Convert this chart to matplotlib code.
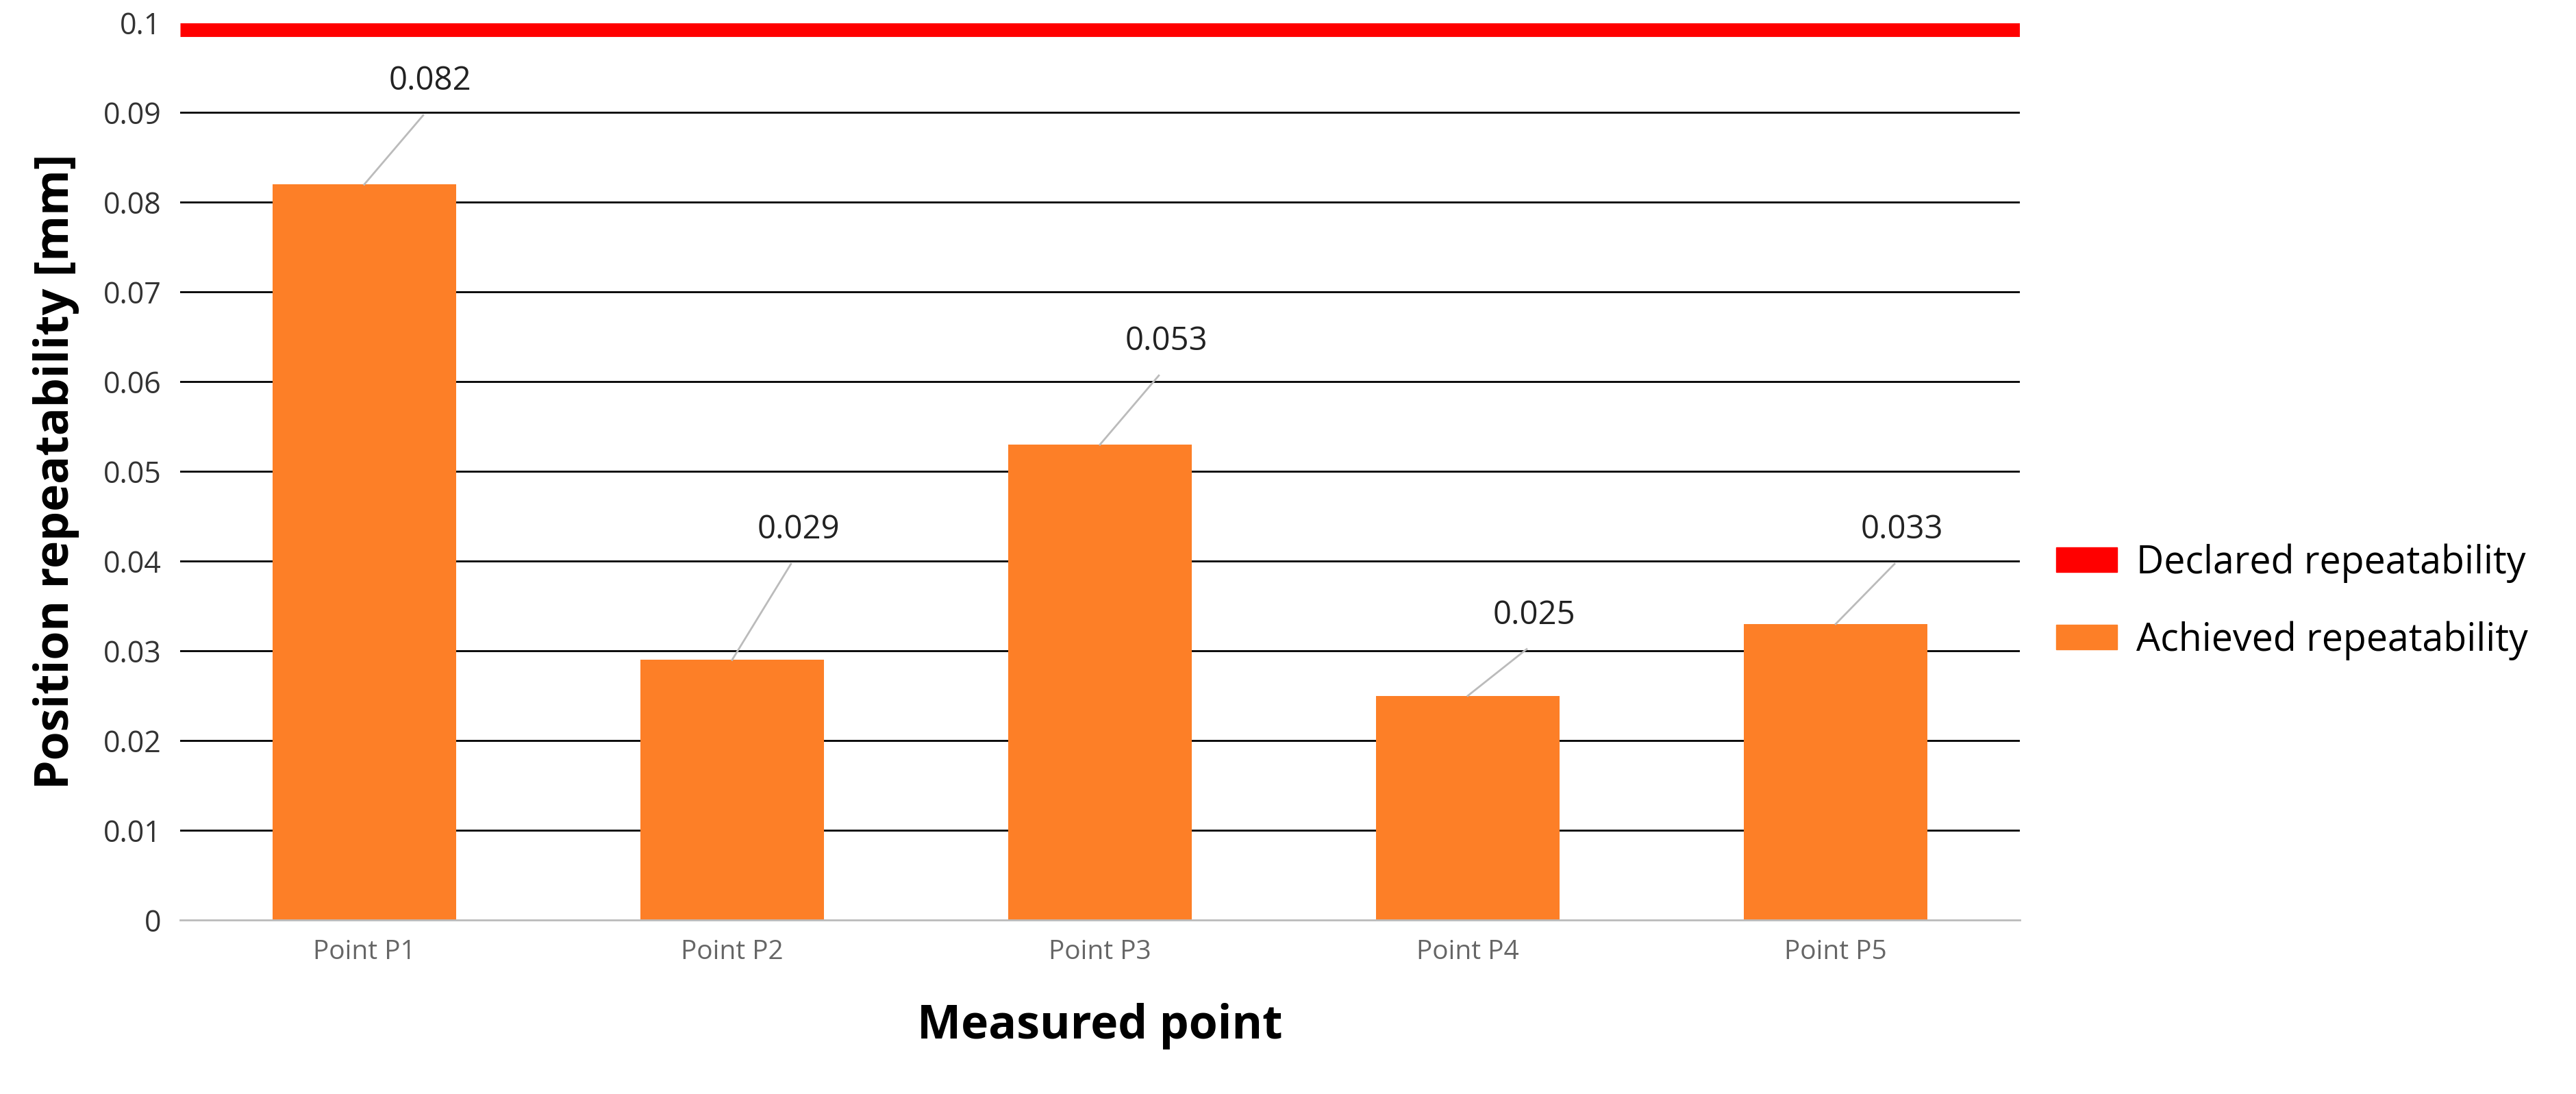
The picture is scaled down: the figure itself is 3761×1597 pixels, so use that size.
import matplotlib
matplotlib.use("Agg")
import matplotlib.pyplot as plt
from matplotlib.patches import Patch

categories = ["Point P1", "Point P2", "Point P3", "Point P4", "Point P5"]
achieved = [0.082, 0.029, 0.053, 0.025, 0.033]
labels = ["0.082", "0.029", "0.053", "0.025", "0.033"]
declared = 0.1
label_y = [0.0935, 0.0435, 0.0645, 0.0340, 0.0435]
yticks = [0, 0.01, 0.02, 0.03, 0.04, 0.05, 0.06, 0.07, 0.08, 0.09, 0.1]
ytick_labels = ["0", "0.01", "0.02", "0.03", "0.04", "0.05", "0.06", "0.07", "0.08", "0.09", "0.1"]

plt.rcParams['font.family'] = ['Open Sans', 'DejaVu Sans']
fig = plt.figure(figsize=(37.61, 15.97), dpi=100)
ax = fig.add_axes([0.070, 0.159, 0.714, 0.820])
x = list(range(len(categories)))
ax.set_xlim(-0.5, len(categories) - 0.5)
ax.set_ylim(0, 0.1)
for y in yticks[1:-1]:
    ax.axhline(y, color='black', lw=2, zorder=1)
ax.bar(x, achieved, width=0.5, color='#FD7F27', zorder=2)
ax.axhline(declared, color='#FF0000', lw=28, zorder=3, solid_capstyle='butt')
for i, v in enumerate(achieved):
    lx = i + 0.18
    ly = label_y[i]
    ax.plot([i, lx - 0.02], [v, ly - 0.0038], color='#BBBBBB', lw=2, zorder=2)
    ax.text(lx, ly, labels[i], ha='center', va='center', fontsize=34, color='#222222')
ax.set_yticks(yticks)
ax.set_yticklabels(ytick_labels, fontsize=31, color='#333333')
ax.set_xticks(x)
ax.set_xticklabels(categories, fontsize=28, color='#666666')
ax.tick_params(axis='both', length=0, pad=20)
for s in ['top', 'right', 'left']:
    ax.spines[s].set_visible(False)
ax.spines['bottom'].set_color('#BBBBBB')
ax.spines['bottom'].set_linewidth(2)
ax.set_ylabel("Position repeatability [mm]", fontsize=49, fontweight='bold', labelpad=25)
ax.set_xlabel("Measured point", fontsize=49, fontweight='bold', labelpad=40)
handles = [Patch(color='#FF0000'), Patch(color='#FD7F27')]
fig.legend(handles, ["Declared repeatability", "Achieved repeatability"],
           loc='center left', bbox_to_anchor=(0.785, 0.45), fontsize=40, frameon=False,
           handlelength=1.6, handleheight=0.6, labelspacing=1.0, handletextpad=0.5)
fig.savefig("out.png", dpi=100)
